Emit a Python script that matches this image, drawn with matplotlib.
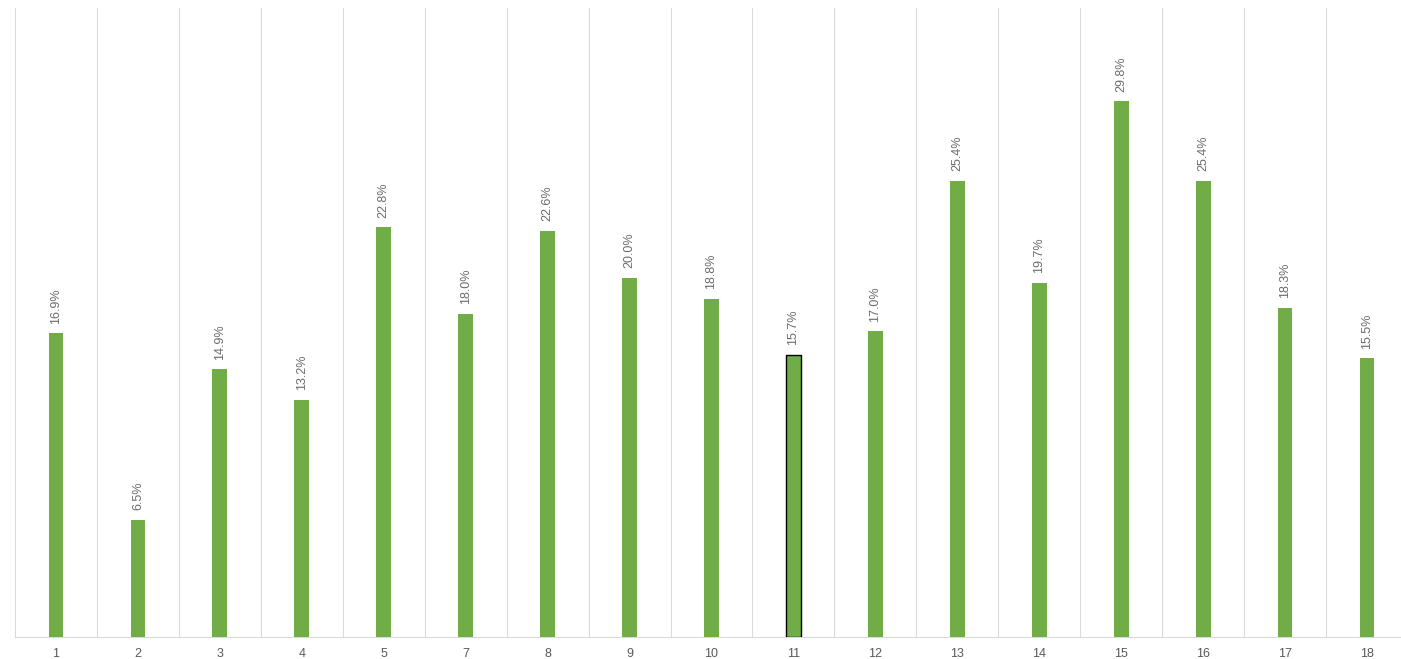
import matplotlib
matplotlib.use("Agg")
import matplotlib.pyplot as plt

categories = ["1", "2", "3", "4", "5", "7", "8", "9", "10", "11", "12", "13", "14", "15", "16", "17", "18"]
values = [16.9, 6.5, 14.9, 13.2, 22.8, 18.0, 22.6, 20.0, 18.8, 15.7, 17.0, 25.4, 19.7, 29.8, 25.4, 18.3, 15.5]
highlight = "11"

plt.rcParams['font.family'] = ['Liberation Sans', 'DejaVu Sans']

fig = plt.figure(figsize=(14.01, 6.59), dpi=100)
ax = fig.add_axes([15/1401, 22/659, 1393/1401, 629/659])

x = list(range(len(categories)))
bar_color = "#70AD47"
edgecolors = ["black" if c == highlight else bar_color for c in categories]
linewidths = [1.0 if c == highlight else 0 for c in categories]
ax.bar(x, values, width=0.18, color=bar_color, edgecolor=edgecolors, linewidth=linewidths, zorder=3)

for xi, v in zip(x, values):
    ax.annotate(f"{v:.1f}%", (xi, v), xytext=(0, 7), textcoords="offset points",
                rotation=90, ha="center", va="bottom", fontsize=9, color="#6b6b6b")

ax.set_xlim(-0.5, len(categories) - 0.5)
ax.set_ylim(0, 35)
ax.set_xticks(x)
ax.set_xticklabels(categories, fontsize=9, color="#595959")
ax.tick_params(axis="x", length=0, pad=8)
ax.set_yticks([])

ax.set_xticks([i - 0.5 for i in range(len(categories) + 1)], minor=True)
ax.tick_params(axis="x", which="minor", length=0)
ax.grid(True, axis="x", which="minor", color="#D9D9D9", linewidth=0.75, zorder=0)
ax.grid(False, axis="x", which="major")

for s in ["top", "right", "left"]:
    ax.spines[s].set_visible(False)
ax.spines["bottom"].set_color("#D9D9D9")
ax.spines["bottom"].set_linewidth(0.75)

fig.savefig("out.png", dpi=100)
